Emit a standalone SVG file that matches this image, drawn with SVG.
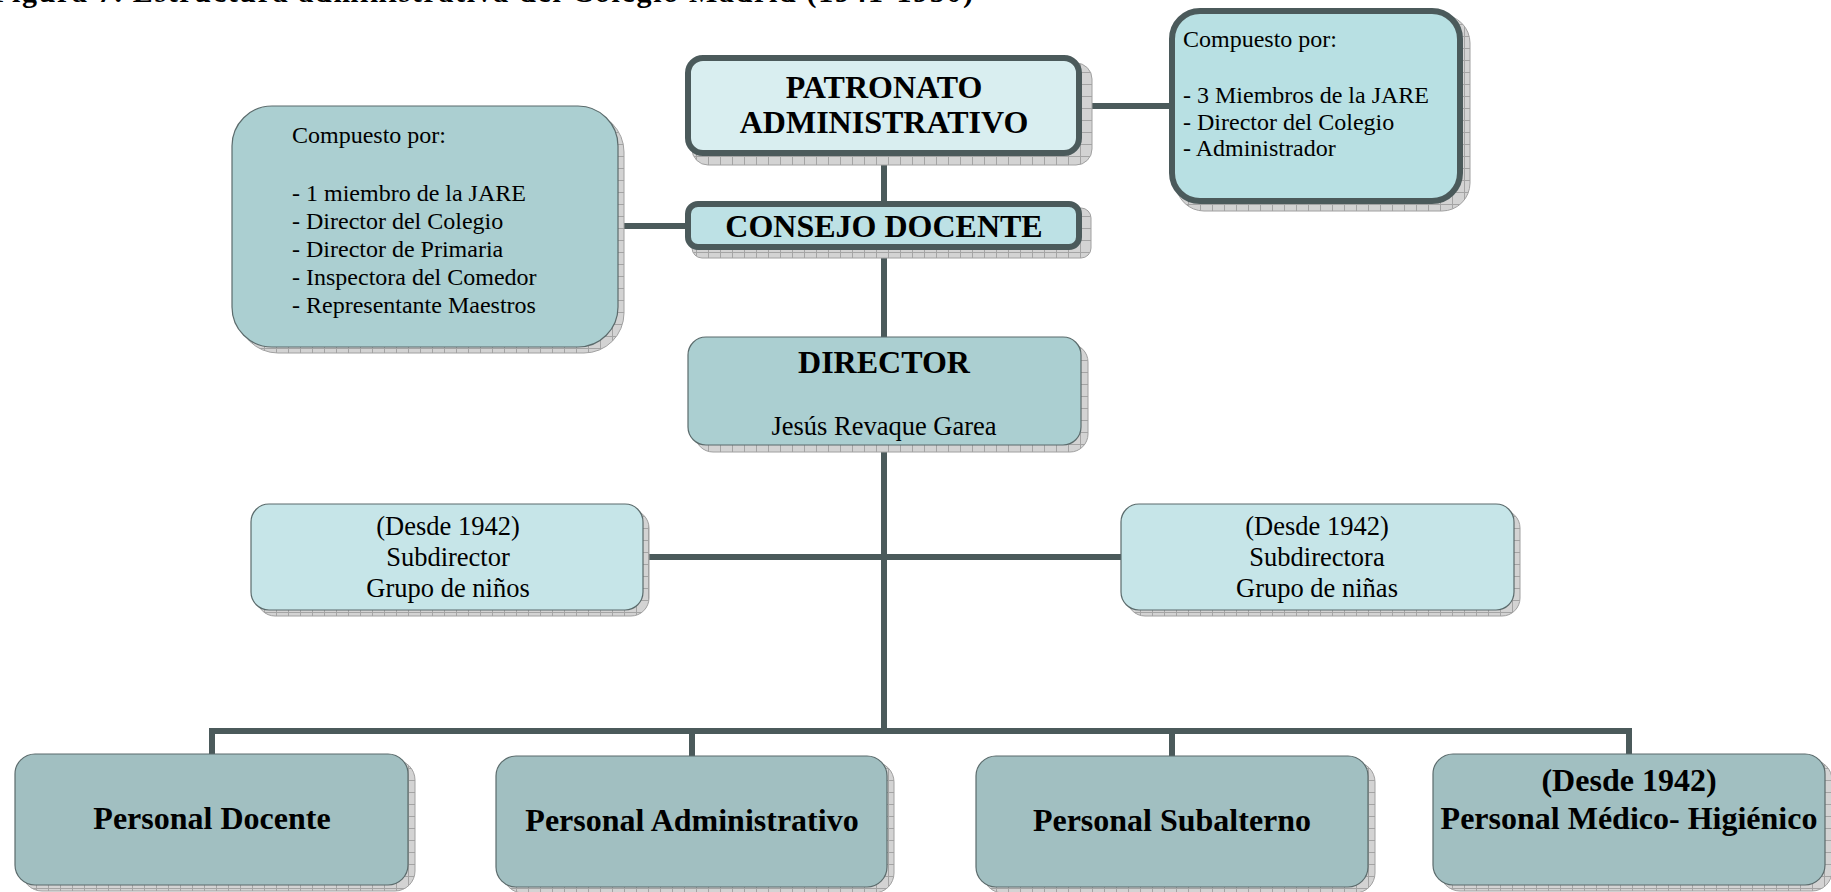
<svg xmlns="http://www.w3.org/2000/svg" width="1831" height="892" viewBox="0 0 1831 892">
  <defs>
    <!-- cross-hatched drop shadow fill -->
    <pattern id="hatch" width="12" height="12" patternUnits="userSpaceOnUse">
      <rect width="12" height="12" fill="#d3d3d3"/>
      <path d="M0 0.5H12M0.5 0V12" stroke="#a4a4a4" stroke-width="1"/>
    </pattern>
  </defs>
  <style>
    text { font-family: "Liberation Serif", "Times New Roman", serif; fill: #000; }
    .h { font-weight: bold; font-size: 32px; text-anchor: middle; }
    .b { font-size: 24px; }
    .c { font-size: 26.5px; text-anchor: middle; }
    .sh { fill: url(#hatch); stroke: #a0a0a0; stroke-width: 1; }
    .thick { stroke: #4b5a5b; stroke-width: 6; }
    .thin { stroke: #5b6b6c; stroke-width: 1.2; }
    .conn line { stroke: #4b5a5b; stroke-width: 6; fill: none; }
  </style>

  <rect width="1831" height="892" fill="#ffffff"/>

  <!-- caption line, cut by the top edge -->
  <text id="title" x="-8" y="2" font-weight="bold" font-size="30" textLength="981" lengthAdjust="spacing">Figura 7. Estructura administrativa del Colegio Madrid (1941-1950)</text>

  <!-- connectors -->
  <g id="connectors" class="conn">
    <line x1="884" y1="150" x2="884" y2="210"/>
    <line x1="1075" y1="106" x2="1175" y2="106"/>
    <line x1="612" y1="226" x2="692" y2="226"/>
    <line x1="884" y1="245" x2="884" y2="345"/>
    <line x1="884" y1="440" x2="884" y2="734"/>
    <line x1="635" y1="557" x2="1128" y2="557"/>
    <line x1="209" y1="731" x2="1632" y2="731"/>
    <line x1="212" y1="728" x2="212" y2="760"/>
    <line x1="692" y1="728" x2="692" y2="760"/>
    <line x1="1172" y1="728" x2="1172" y2="760"/>
    <line x1="1629" y1="728" x2="1629" y2="760"/>
  </g>

  <g id="patronato">
    <rect class="sh" x="692" y="63" width="400" height="102" rx="16"/>
    <rect class="thick" x="688" y="58" width="391" height="95" rx="15" fill="#d9eef0"/>
    <text class="h" x="884" y="98">PATRONATO</text>
    <text class="h" x="884" y="133">ADMINISTRATIVO</text>
  </g>

  <g id="patronato-miembros">
    <rect class="sh" x="1176" y="15" width="294" height="196" rx="28"/>
    <rect class="thick" x="1172" y="11" width="288" height="190" rx="28" fill="#b8e0e3"/>
    <text class="b" x="1183" y="47">Compuesto por:</text>
    <text class="b" x="1183" y="103">- 3 Miembros de la JARE</text>
    <text class="b" x="1183" y="130">- Director del Colegio</text>
    <text class="b" x="1183" y="156">- Administrador</text>
  </g>

  <g id="consejo">
    <rect class="sh" x="692" y="208" width="399" height="50" rx="10"/>
    <rect class="thick" x="688" y="204" width="391" height="43" rx="10" fill="#bde1e5"/>
    <text class="h" x="884" y="237">CONSEJO DOCENTE</text>
  </g>

  <g id="consejo-miembros">
    <rect class="sh" x="238" y="112" width="386" height="241" rx="40"/>
    <rect class="thin" x="232" y="106" width="386" height="241" rx="40" fill="#abcfd1"/>
    <text class="b" x="292" y="143">Compuesto por:</text>
    <text class="b" x="292" y="201">- 1 miembro de la JARE</text>
    <text class="b" x="292" y="229">- Director del Colegio</text>
    <text class="b" x="292" y="257">- Director de Primaria</text>
    <text class="b" x="292" y="285">- Inspectora del Comedor</text>
    <text class="b" x="292" y="313">- Representante Maestros</text>
  </g>

  <g id="director">
    <rect class="sh" x="695" y="344" width="393" height="108" rx="18"/>
    <rect class="thin" x="688" y="337" width="393" height="108" rx="18" fill="#abcfd1"/>
    <text class="h" x="884" y="373">DIRECTOR</text>
    <text class="c" x="884" y="435">Jesús Revaque Garea</text>
  </g>

  <g id="subdirector">
    <rect class="sh" x="257" y="510" width="392" height="106" rx="18"/>
    <rect class="thin" x="251" y="504" width="392" height="106" rx="18" fill="#c6e5e8"/>
    <text class="c" x="448" y="535">(Desde 1942)</text>
    <text class="c" x="448" y="566">Subdirector</text>
    <text class="c" x="448" y="597">Grupo de niños</text>
  </g>

  <g id="subdirectora">
    <rect class="sh" x="1127" y="510" width="393" height="106" rx="18"/>
    <rect class="thin" x="1121" y="504" width="393" height="106" rx="18" fill="#c6e5e8"/>
    <text class="c" x="1317" y="535">(Desde 1942)</text>
    <text class="c" x="1317" y="566">Subdirectora</text>
    <text class="c" x="1317" y="597">Grupo de niñas</text>
  </g>

  <g id="personal-docente">
    <rect class="sh" x="22" y="760" width="393" height="131" rx="20"/>
    <rect class="thin" x="15" y="754" width="393" height="131" rx="20" fill="#a1bfc1"/>
    <text class="h" x="212" y="829">Personal Docente</text>
  </g>

  <g id="personal-administrativo">
    <rect class="sh" x="503" y="762" width="391" height="131" rx="20"/>
    <rect class="thin" x="496" y="756" width="391" height="131" rx="20" fill="#a1bfc1"/>
    <text class="h" x="692" y="831">Personal Administrativo</text>
  </g>

  <g id="personal-subalterno">
    <rect class="sh" x="983" y="762" width="392" height="131" rx="20"/>
    <rect class="thin" x="976" y="756" width="392" height="131" rx="20" fill="#a1bfc1"/>
    <text class="h" x="1172" y="831">Personal Subalterno</text>
  </g>

  <g id="personal-medico">
    <rect class="sh" x="1440" y="760" width="392" height="131" rx="20"/>
    <rect class="thin" x="1433" y="754" width="392" height="131" rx="20" fill="#a1bfc1"/>
    <text class="h" x="1629" y="791">(Desde 1942)</text>
    <text class="h" x="1629" y="829">Personal Médico- Higiénico</text>
  </g>
</svg>
